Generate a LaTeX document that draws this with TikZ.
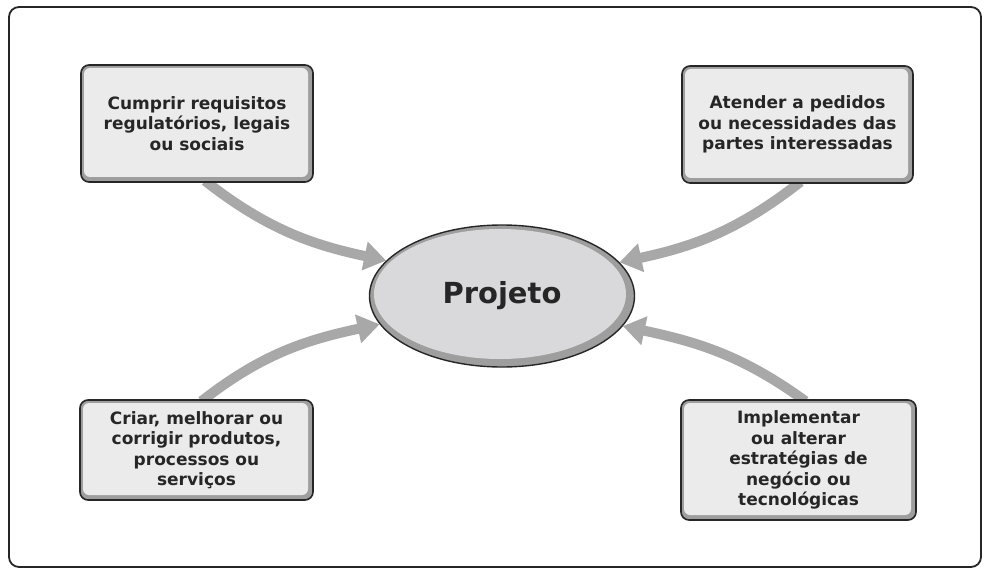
\documentclass[tikz,border=0pt]{standalone}
\usepackage{fontspec}
\setmainfont{DejaVu Sans}
\usetikzlibrary{arrows.meta,shapes.geometric,backgrounds}
\definecolor{ink}{HTML}{262626}
\definecolor{ring}{HTML}{9E9E9E}
\definecolor{boxfill}{HTML}{EBEBEB}
\definecolor{ellfill}{HTML}{D9D9DB}
\definecolor{arrowgray}{HTML}{A8A8A8}
\begin{document}
\begin{tikzpicture}[x=1pt,y=-1pt,
  reqbox/.style={draw=ink,line width=1.6pt,fill=ring,rounded corners=8pt,
    align=center,inner sep=0pt,text=ink,
    font=\fontsize{17}{20.5}\selectfont\bfseries,
    path picture={\fill[boxfill,rounded corners=6pt]
      ([shift={(3pt,-3pt)}]path picture bounding box.north west) rectangle
      ([shift={(-5pt,5pt)}]path picture bounding box.south east);}},
  projnode/.style={ellipse,draw=ink,line width=1.4pt,fill=ring,
    minimum width=265pt,minimum height=142pt,inner sep=0pt,text=ink,
    font=\fontsize{29}{34}\selectfont\bfseries,
    path picture={\fill[ellfill]
      ([shift={(-2pt,2pt)}]path picture bounding box.center)
      ellipse [x radius=126pt,y radius=65pt];}},
  flow/.style={draw=arrowgray,line width=10pt,
    -{Triangle[length=22pt,width=28pt]}},
  frame/.style={draw=ink,line width=1.8pt,rounded corners=10pt}
]
\useasboundingbox (0,0) rectangle (984,572);
\draw[frame] (9,7) rectangle (981,567);

\node[projnode] (proj) at (502,296) {Projeto};

\node[reqbox,minimum width=232pt,minimum height=117pt] (tl) at (197,123.5)
  {Cumprir requisitos\\regulatórios, legais\\ou sociais};
\node[reqbox,minimum width=231pt,minimum height=117pt] (tr) at (797.5,124.5)
  {Atender a pedidos\\ou necessidades das\\partes interessadas};
\node[reqbox,minimum width=233pt,minimum height=100pt] (bl) at (196.5,450)
  {Criar, melhorar ou\\corrigir produtos,\\processos ou\\serviços};
\node[reqbox,minimum width=235pt,minimum height=120pt] (br) at (798.5,460)
  {Implementar\\ou alterar\\estratégias de\\negócio ou\\tecnológicas};

\begin{pgfonlayer}{background}
\draw[flow] ([xshift=8pt,yshift=2pt]tl.south) to[out=-38,in=168] (proj.163.5);
\draw[flow] ([xshift=3pt,yshift=2pt]tr.south) to[out=-142,in=12] (proj.16.5);
\draw[flow] ([xshift=5pt,yshift=-2pt]bl.north) to[out=38,in=-168] (proj.193);
\draw[flow] ([xshift=7pt,yshift=-2pt]br.north) to[out=144,in=-12] (proj.346);
\end{pgfonlayer}
\end{tikzpicture}
\end{document}
